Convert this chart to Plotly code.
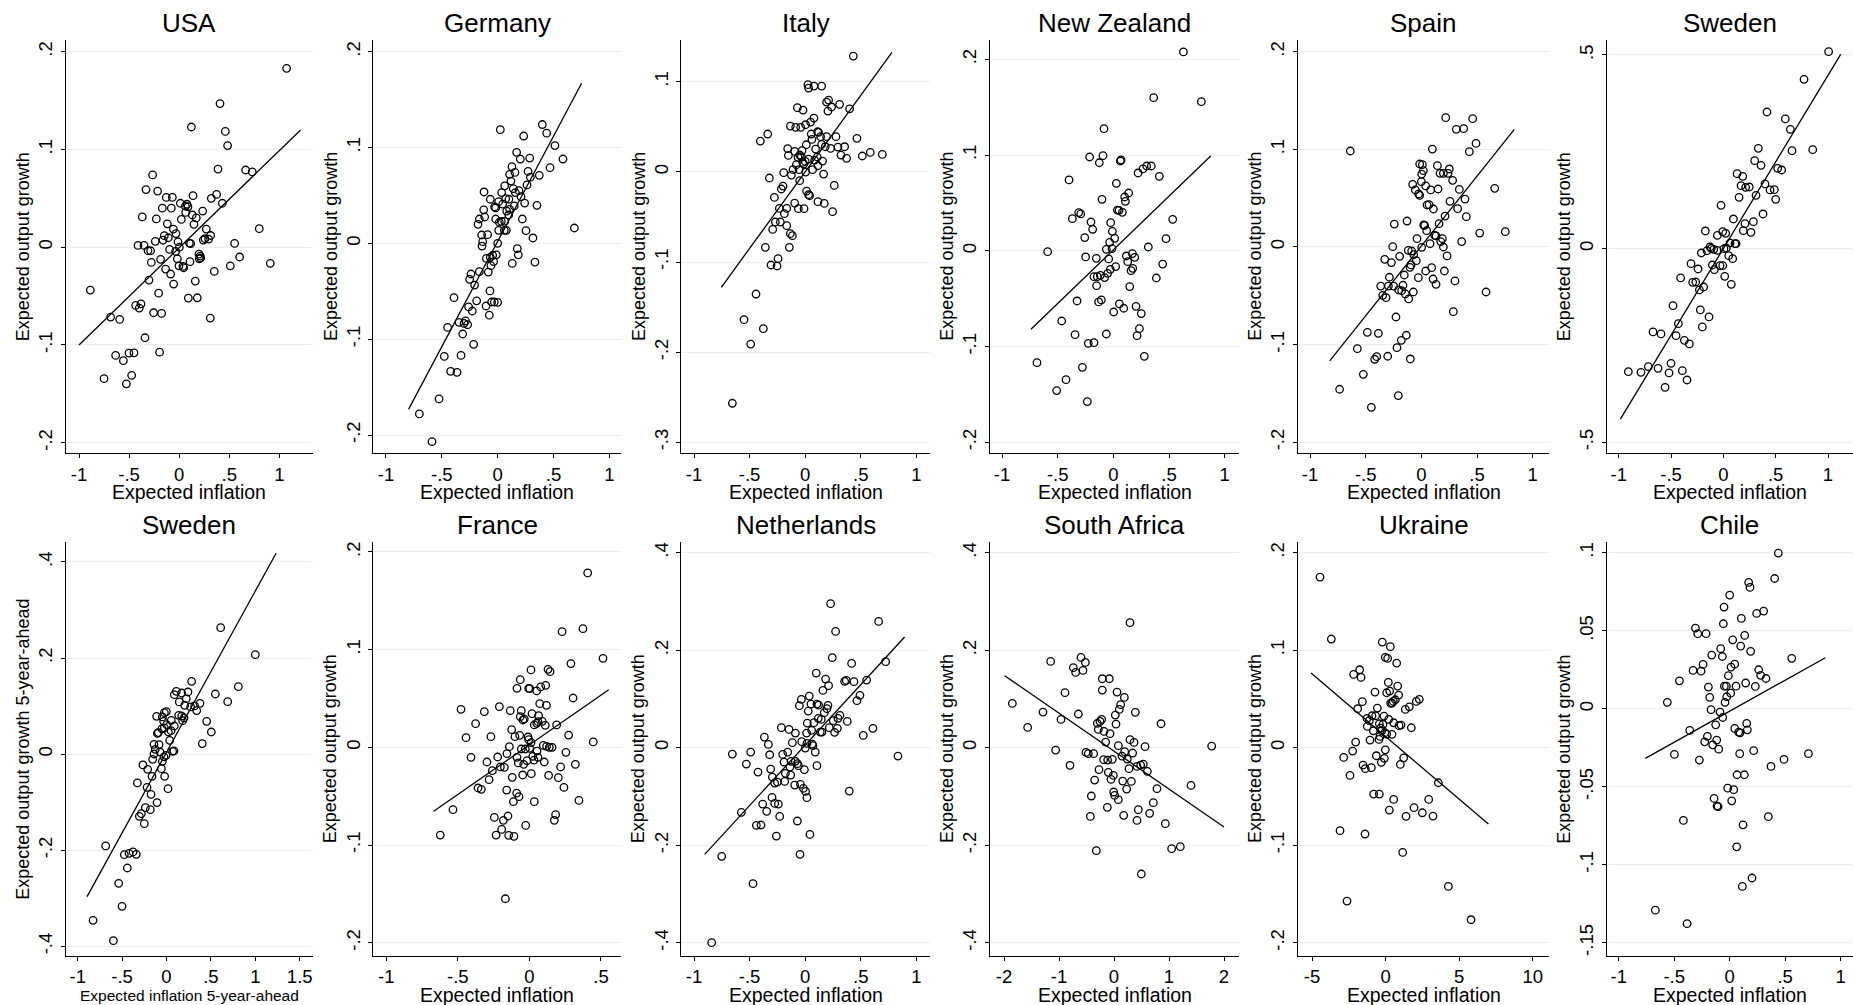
import plotly.graph_objects as go

W, H = 1853, 1005
FONT = "Liberation Sans, Arial, sans-serif"

# ---------------- data ----------------
usa_pts = [(1.073,0.183),(0.408,0.147),(0.122,0.123),(0.461,0.1185),(0.484,0.104),(0.388,0.080),(0.664,0.079),(0.73,0.077),
 (-0.265,0.074),(-0.331,0.059),(-0.215,0.0575),(0.374,0.054),(0.138,0.0527),(-0.128,0.051),(-0.068,0.051),(0.321,0.050),
 (0.012,0.045),(0.078,0.044),(0.431,0.045),(0.062,0.042),(0.088,0.0414),(-0.168,0.040),(-0.078,0.040),(0.235,0.037),
 (0.065,0.0356),(0.131,0.033),(0.171,0.030),(-0.368,0.031),(-0.228,0.029),(0.022,0.0285),(-0.118,0.024),(0.148,0.0234),
 (0.271,0.0186),(-0.058,0.0186),(0.8,0.019),(-0.032,0.014),(-0.148,0.0118),(0.314,0.012),(-0.108,0.0097),(0.258,0.0087),
 (0.294,0.0084),(-0.161,0.0073),(-0.238,0.006),(0.241,0.0073),(-0.012,0.0056),(0.102,0.0043),(0.115,0.0036),(0.554,0.0039),
 (-0.411,0.0019),(-0.351,0.0019),(0.002,0.0),(-0.095,-0.0022),(-0.311,-0.0036),(-0.285,-0.0036),(-0.035,-0.0043),(0.198,-0.007),
 (0.211,-0.009),(0.604,-0.010),(-0.018,-0.0118),(0.215,-0.011),(0.201,-0.0118),(-0.185,-0.0124),(0.108,-0.0148),(-0.278,-0.0155),
 (0.91,-0.0165),(-0.002,-0.019),(0.038,-0.0196),(0.045,-0.021),(0.511,-0.019),(-0.135,-0.0223),(0.351,-0.0247),(-0.085,-0.0274),
 (-0.301,-0.0336),(0.161,-0.0346),(-0.055,-0.0377),(-0.205,-0.047),(0.092,-0.052),(0.181,-0.0517),(-0.887,-0.0438),(-0.434,-0.0595),
 (-0.381,-0.058),(-0.398,-0.0622),(-0.255,-0.067),(-0.175,-0.0677),(0.311,-0.0725),(-0.684,-0.0714),(-0.594,-0.0738),(-0.341,-0.0926),
 (-0.634,-0.1107),(-0.557,-0.116),(-0.501,-0.1083),(-0.451,-0.108),(-0.195,-0.1073),(-0.75,-0.1345),(-0.474,-0.131),(-0.527,-0.1397)]
usa_fit_x = [-1.0, 1.213]
usa_fit_y = [-0.1, 0.12]

germany_pts = [(0.024,0.1186),(0.4,0.124),(0.439,0.115),(0.233,0.112),(0.513,0.102),(0.17,0.095),(0.203,0.088),(0.287,0.089),
 (0.585,0.088),(0.128,0.080),(0.469,0.079),(0.272,0.075),(0.155,0.074),(0.107,0.072),(0.373,0.071),(0.293,0.069),(0.119,0.065),
 (0.063,0.060),(0.263,0.061),(0.14,0.057),(0.191,0.055),(-0.122,0.0536),(0.158,0.053),(0.036,0.053),(0.209,0.0487),(-0.066,0.046),
 (0.101,0.046),(0.072,0.0466),(0.009,0.0435),(0.242,0.042),(0.045,0.041),(0.352,0.0397),(0.149,0.039),(-0.027,0.038),(-0.018,0.037),
 (0.107,0.0355),(-0.125,0.035),(0.081,0.0337),(0.099,0.0296),(-0.116,0.0275),(-0.164,0.0254),(-0.018,0.0254),(0.221,0.0254),
 (0.033,0.023),(0.015,0.022),(0.063,0.023),(-0.176,0.0198),(0.254,0.0132),(0.06,0.0136),(0.009,0.0136),(0.078,0.0136),(0.687,0.016),
 (-0.143,0.0087),(-0.09,0.009),(0.316,0.0056),(-0.134,0.0017),(0.0,0.0),(-0.14,-0.0028),(0.176,-0.0056),(0.185,-0.012),(-0.012,-0.012),
 (-0.045,-0.0125),(-0.066,-0.0146),(-0.101,-0.0157),(-0.036,-0.019),(0.131,-0.021),(0.334,-0.0195),(-0.06,-0.0233),(-0.239,-0.032),
 (-0.164,-0.0296),(-0.084,-0.030),(-0.251,-0.0376),(-0.206,-0.0435),(-0.069,-0.0497),(-0.391,-0.0567),(-0.188,-0.060),(-0.054,-0.0612),
 (0.0,-0.0616),(-0.03,-0.0612),(-0.26,-0.0664),(-0.104,-0.0654),(-0.227,-0.0706),(-0.075,-0.075),(-0.346,-0.0824),(-0.287,-0.081),
 (-0.301,-0.0835),(-0.269,-0.0849),(-0.448,-0.0877),(-0.313,-0.0946),(-0.215,-0.1054),(-0.478,-0.118),(-0.328,-0.117),(-0.421,-0.1336),
 (-0.364,-0.1346),(-0.525,-0.1624),(-0.701,-0.178),(-0.588,-0.207)]
germany_fit_x = [-0.797, 0.752]
germany_fit_y = [-0.173, 0.167]

italy_pts = [(0.433,0.1285),(0.025,0.0967),(0.079,0.0952),(0.148,0.0952),(0.031,0.093),(0.211,0.0797),(0.193,0.0774),(0.31,0.0749),
 (-0.07,0.0712),(0.4,0.070),(-0.019,0.0686),(0.238,0.072),(0.205,0.0675),(0.079,0.0597),(0.049,0.0553),(0.004,0.0523),(-0.04,0.0494),
 (-0.085,0.0494),(-0.133,0.0508),(-0.337,0.042),(-0.403,0.0342),(0.112,0.0445),(0.121,0.0438),(0.055,0.042),(0.139,0.039),(0.193,0.039),
 (0.277,0.039),(0.466,0.0372),(0.061,0.036),(0.148,0.0305),(0.01,0.0301),(0.181,0.0279),(0.295,0.0275),(0.355,0.0279),(0.229,0.026),
 (-0.157,0.0257),(0.094,0.0253),(-0.094,0.0227),(-0.028,0.0235),(0.586,0.0216),(0.322,0.0187),(0.694,0.0194),(0.514,0.0176),(0.373,0.015),
 (-0.151,0.0183),(-0.049,0.0187),(-0.064,0.0161),(-0.034,0.0168),(0.109,0.0165),(0.031,0.0142),(0.085,0.0131),(0.157,0.012),(0.001,0.0116),
 (-0.079,0.008),(-0.022,0.0105),(-0.013,0.0087),(0.115,0.0068),(-0.109,0.0024),(-0.055,0.0024),(0.067,0.0024),(0.004,-0.0002),(-0.193,-0.0009),
 (-0.124,-0.0035),(0.166,-0.0024),(-0.322,-0.0068),(-0.049,-0.0098),(0.262,-0.015),(-0.199,-0.0157),(-0.214,-0.019),(0.013,-0.0213),
 (0.031,-0.0253),(0.04,-0.0264),(-0.277,-0.0283),(-0.094,-0.0346),(0.115,-0.0331),(0.172,-0.035),(-0.061,-0.0408),(-0.01,-0.0408),
 (-0.232,-0.0405),(-0.166,-0.0405),(0.247,-0.0442),(-0.187,-0.0464),(-0.268,-0.0556),(-0.223,-0.0556),(-0.166,-0.0597),(-0.292,-0.0638),
 (-0.133,-0.0686),(-0.115,-0.0708),(-0.142,-0.0837),(-0.358,-0.0837),(-0.244,-0.0963),(-0.307,-0.1033),(-0.253,-0.1044),(-0.442,-0.1355),
 (-0.55,-0.164),(-0.376,-0.174),(-0.49,-0.191),(-0.655,-0.2567)]
italy_fit_x = [-0.754, 0.781]
italy_fit_y = [-0.128, 0.1325]

nz_pts = [(0.629,0.2077),(0.362,0.16),(0.79,0.1558),(-0.084,0.1276),(-0.213,0.098),(-0.093,0.0994),(-0.126,0.092),(0.063,0.0938),
 (0.069,0.0949),(0.341,0.0886),(0.299,0.0886),(0.266,0.0855),(0.222,0.0813),(0.413,0.0778),(-0.398,0.074),(0.027,0.0705),(0.138,0.0604),
 (0.102,0.0562),(-0.102,0.0538),(0.108,0.0517),(0.036,0.0426),(0.051,0.0423),(0.081,0.0402),(-0.311,0.0399),(-0.293,0.0385),(-0.368,0.0336),
 (0.533,0.0329),(-0.201,0.0301),(-0.024,0.0294),(-0.186,0.0225),(-0.009,0.0204),(-0.257,0.0138),(0.473,0.0127),(0.012,0.013),(-0.033,0.0089),
 (0.314,0.004),(-0.063,0.0016),(-0.012,0.0023),(-0.59,-0.0009),(-0.249,-0.0064),(-0.153,-0.0078),(0.171,-0.003),(0.117,-0.0054),
 (0.192,-0.0068),(-0.042,-0.0085),(0.129,-0.0113),(0.443,-0.0138),(0.021,-0.0165),(-0.027,-0.0193),(0.174,-0.0183),(0.159,-0.0207),
 (-0.051,-0.0235),(-0.117,-0.0256),(-0.174,-0.027),(-0.144,-0.027),(-0.078,-0.028),(0.386,-0.0284),(-0.15,-0.0364),(0.147,-0.0374),
 (-0.326,-0.0524),(-0.108,-0.0513),(-0.132,-0.0534),(0.054,-0.0555),(0.093,-0.06),(0.204,-0.058),(0.003,-0.0639),(0.251,-0.0656),
 (-0.464,-0.0733),(0.234,-0.0813),(0.213,-0.0886),(-0.063,-0.0869),(-0.344,-0.0876),(-0.225,-0.0966),(-0.174,-0.0959),(0.278,-0.1102),
 (-0.686,-0.1168),(-0.278,-0.1217),(-0.425,-0.1346),(-0.509,-0.146),(-0.234,-0.1575)]
nz_fit_x = [-0.74, 0.874]
nz_fit_y = [-0.082, 0.099]

spain_pts = [(0.219,0.1324),(0.461,0.1314),(0.314,0.1205),(0.38,0.1212),(0.491,0.1061),(-0.638,0.0983),(0.099,0.1003),(0.431,0.0976),
 (-0.015,0.085),(0.009,0.0843),(0.144,0.0833),(0.251,0.0799),(0.018,0.0782),(0.168,0.0754),(0.198,0.0754),(0.24,0.0754),(0.003,0.0747),
 (0.281,0.0683),(0.0,0.0669),(-0.078,0.0642),(0.039,0.0625),(-0.054,0.0584),(0.084,0.0584),(0.15,0.0594),(0.341,0.059),(0.659,0.0601),
 (-0.024,0.0543),(-0.015,0.0529),(0.392,0.0491),(0.257,0.0468),(0.051,0.043),(0.069,0.0433),(0.108,0.0389),(0.326,0.0392),(0.404,0.0311),
 (0.213,0.0317),(-0.129,0.0266),(-0.243,0.0235),(0.021,0.0225),(0.03,0.0222),(0.159,0.0239),(0.048,0.0167),(0.754,0.0157),(0.524,0.0143),
 (0.12,0.0119),(0.132,0.0113),(-0.039,0.0085),(0.189,0.0085),(0.362,0.0055),(0.174,0.0055),(0.078,0.0034),(-0.257,0.0003),(0.003,-0.0003),
 (0.198,0.0),(-0.117,-0.0034),(-0.087,-0.0041),(-0.069,-0.0078),(-0.329,-0.0126),(-0.195,-0.0096),(0.231,-0.0092),(-0.045,-0.014),
 (-0.269,-0.016),(-0.093,-0.0184),(-0.102,-0.0208),(0.093,-0.0212),(0.039,-0.0246),(0.207,-0.0246),(-0.153,-0.0287),(-0.287,-0.031),
 (-0.027,-0.0314),(0.105,-0.0328),(0.302,-0.0348),(0.132,-0.0382),(-0.365,-0.04),(-0.296,-0.04),(-0.249,-0.04),(-0.165,-0.0392),
 (-0.204,-0.044),(-0.177,-0.0447),(-0.144,-0.0481),(-0.072,-0.0461),(-0.347,-0.0495),(-0.317,-0.0519),(-0.114,-0.0532),(0.581,-0.0461),
 (-0.228,-0.0717),(0.287,-0.0662),(-0.485,-0.0874),(-0.386,-0.0884),(-0.135,-0.0904),(-0.18,-0.0956),(-0.219,-0.1031),(-0.575,-0.1041),
 (-0.302,-0.1119),(-0.401,-0.1123),(-0.419,-0.115),(-0.099,-0.1147),(-0.521,-0.1304),(-0.734,-0.1457),(-0.207,-0.1522),(-0.449,-0.1642)]
spain_fit_x = [-0.823, 0.835]
spain_fit_y = [-0.1167, 0.1205]

sweden_pts = [(1.006,0.5086),(0.771,0.4372),(0.417,0.3528),(0.592,0.3348),(0.64,0.3081),(0.334,0.259),(0.656,0.253),(0.854,0.2556),
 (0.299,0.2272),(0.36,0.2151),(0.519,0.2074),(0.557,0.2031),(0.131,0.1936),(0.185,0.1867),(0.398,0.167),(0.169,0.1627),(0.213,0.1583),
 (0.248,0.1592),(0.446,0.1515),(0.487,0.1523),(0.312,0.1377),(0.15,0.1325),(0.5,0.1274),(-0.022,0.1119),(0.379,0.0895),(0.096,0.0766),
 (0.287,0.0697),(0.207,0.0645),(-0.172,0.0456),(0.191,0.0465),(0.264,0.0422),(-0.006,0.0439),(0.022,0.0396),(-0.057,0.0344),(0.064,0.0146),
 (0.121,0.0129),(0.111,0.0129),(-0.127,0.0043),(-0.115,0.0009),(-0.092,-0.0017),(-0.156,-0.0052),(-0.057,-0.0043),(0.006,0.0),(0.029,0.0017),
 (-0.21,-0.0112),(0.051,-0.0181),(0.089,-0.0258),(-0.309,-0.0387),(-0.242,-0.0525),(-0.105,-0.0422),(-0.032,-0.0439),(-0.006,-0.0439),
 (-0.086,-0.0542),(-0.408,-0.0757),(0.013,-0.0714),(-0.293,-0.0869),(-0.264,-0.0861),(0.076,-0.0921),(-0.188,-0.099),(-0.229,-0.1067),
 (-0.481,-0.1472),(-0.22,-0.1583),(-0.137,-0.1764),(-0.43,-0.1936),(-0.201,-0.2022),(-0.672,-0.2151),(-0.596,-0.2203),(-0.452,-0.2246),
 (-0.373,-0.2367),(-0.325,-0.2461),(-0.5,-0.296),(-0.717,-0.3046),(-0.624,-0.309),(-0.908,-0.3176),(-0.787,-0.3193),(-0.519,-0.321),
 (-0.392,-0.315),(-0.347,-0.3391),(-0.557,-0.358)]
sweden_fit_x = [-0.984, 1.121]
sweden_fit_y = [-0.44, 0.5017]

sweden5_pts = [(0.61,0.2633),(1.0,0.2071),(0.283,0.1516),(0.809,0.1405),(0.242,0.1294),(0.111,0.1308),(0.171,0.1273),(0.088,0.1238),
 (0.55,0.1252),(0.689,0.1093),(0.144,0.1086),(0.223,0.1155),(0.377,0.1058),(0.317,0.1003),(0.272,0.0982),(0.205,0.1016),(0.34,0.0906),
 (-0.002,0.0885),(-0.024,0.0864),(0.137,0.0808),(0.171,0.0794),(-0.111,0.0787),(-0.047,0.0774),(0.197,0.0753),(0.054,0.0704),(0.182,0.0697),
 (-0.032,0.0683),(0.452,0.0683),(0.002,0.0614),(-0.024,0.0545),(-0.051,0.0524),(0.051,0.0489),(0.021,0.0461),(0.088,0.0586),(0.505,0.0461),
 (-0.103,0.0433),(-0.092,0.0448),(0.036,0.0288),(-0.084,0.0198),(-0.141,0.0205),(0.403,0.0219),(-0.126,0.0101),(0.069,0.0059),(0.084,0.0066),
 (-0.073,0.0045),(-0.141,0.0003),(-0.006,-0.0024),(-0.028,-0.0059),(-0.156,-0.0108),(-0.047,-0.0149),(-0.265,-0.0225),(-0.212,-0.0316),
 (-0.058,-0.0302),(-0.163,-0.0461),(-0.021,-0.0461),(-0.328,-0.06),(-0.219,-0.069),(0.017,-0.0718),(-0.174,-0.0836),(-0.107,-0.1009),
 (-0.182,-0.1155),(-0.238,-0.1114),(-0.283,-0.1239),(-0.306,-0.1294),(-0.25,-0.1447),(-0.685,-0.1911),(-0.475,-0.2092),(-0.422,-0.2064),
 (-0.377,-0.2036),(-0.34,-0.2085),(-0.441,-0.237),(-0.538,-0.2689),(-0.501,-0.3167),(-0.827,-0.3459),(-0.598,-0.3882)]
sweden5_fit_x = [-0.895, 1.236]
sweden5_fit_y = [-0.2966, 0.4187]

france_pts = [(0.407,0.1785),(0.228,0.1184),(0.374,0.1215),(0.514,0.0911),(0.29,0.0857),(0.011,0.0792),(0.13,0.0799),(0.144,0.0775),
 (-0.064,0.0693),(-0.087,0.0604),(-0.005,0.0604),(0.002,0.0601),(0.079,0.0618),(0.114,0.0635),(0.051,0.0577),(0.305,0.0505),(0.072,0.0447),
 (0.119,0.043),(-0.478,0.0389),(-0.315,0.0365),(-0.21,0.0416),(-0.134,0.0375),(-0.057,0.0375),(-0.064,0.0314),(-0.036,0.029),(-0.045,0.028),
 (0.018,0.0345),(0.064,0.0324),(0.09,0.0266),(0.051,0.0246),(0.034,0.0229),(0.111,0.0225),(0.19,0.0229),(-0.376,0.0242),(0.06,0.0263),
 (-0.124,0.0181),(-0.101,0.0109),(-0.068,0.0123),(-0.443,0.0099),(-0.269,0.0109),(0.274,0.0126),(0.446,0.0055),(-0.01,0.0106),(-0.005,0.0078),
 (0.011,0.0048),(-0.14,0.0007),(0.097,0.002),(0.12,0.001),(0.139,0.0),(0.158,0.0),(-0.057,-0.0017),(-0.029,-0.0017),(0.002,-0.001),
 (0.053,-0.0038),(0.255,-0.0051),(-0.157,-0.0065),(-0.408,-0.0102),(-0.222,-0.0099),(-0.087,-0.0102),(0.023,-0.0092),(0.06,-0.0102),
 (-0.297,-0.015),(-0.017,-0.0137),(0.032,-0.013),(0.104,-0.015),(-0.078,-0.016),(-0.04,-0.0174),(0.321,-0.0174),(0.218,-0.0201),
 (-0.203,-0.0201),(-0.175,-0.0205),(-0.259,-0.0239),(-0.047,-0.0283),(0.013,-0.027),(-0.12,-0.0307),(0.134,-0.0287),(0.202,-0.0311),
 (-0.282,-0.0331),(-0.359,-0.0416),(-0.336,-0.043),(0.241,-0.041),(-0.159,-0.0437),(-0.089,-0.0468),(-0.073,-0.0505),(-0.112,-0.0556),
 (0.034,-0.0556),(0.346,-0.0543),(-0.534,-0.0638),(-0.245,-0.0717),(-0.15,-0.0703),(-0.182,-0.0747),(0.183,-0.0689),(0.174,-0.0747),
 (-0.026,-0.0799),(-0.194,-0.084),(-0.623,-0.0898),(-0.233,-0.0898),(-0.145,-0.0901),(-0.108,-0.0911),(-0.168,-0.155)]
france_fit_x = [-0.669, 0.554]
france_fit_y = [-0.0655, 0.059]

netherlands_pts = [(0.229,0.2954),(0.661,0.2591),(0.274,0.2386),(0.244,0.1846),(0.418,0.173),(0.724,0.1764),(0.1,0.1532),(0.184,0.1409),
 (0.211,0.1272),(0.355,0.1361),(0.37,0.1381),(0.439,0.1354),(0.553,0.1388),(0.16,0.1176),(0.037,0.106),(0.493,0.1074),(0.466,0.0964),
 (-0.034,0.0991),(-0.052,0.0862),(0.052,0.0896),(0.106,0.0896),(0.121,0.0875),(0.205,0.0868),(0.196,0.08),(0.028,0.0752),(0.172,0.0718),
 (0.313,0.0663),(0.295,0.0602),(0.118,0.0602),(0.145,0.0581),(0.379,0.054),(0.253,0.0554),(0.079,0.0513),(0.019,0.0506),(-0.214,0.041),
 (-0.145,0.0376),(0.217,0.041),(0.29,0.0397),(0.61,0.0397),(0.058,0.0356),(0.136,0.0321),(0.151,0.0321),(0.265,0.0315),(-0.088,0.0301),
 (0.013,0.0301),(0.523,0.0253),(-0.367,0.0219),(-0.115,0.0103),(-0.031,0.0123),(-0.331,0.0068),(0.016,0.0089),(0.064,0.0075),(0.07,0.0041),
 (0.001,-0.0007),(-0.655,-0.013),(-0.49,-0.0089),(-0.319,-0.0144),(-0.202,-0.0137),(-0.157,-0.0089),(0.091,-0.0089),(0.835,-0.0171),
 (-0.529,-0.0335),(-0.19,-0.0294),(-0.127,-0.028),(-0.088,-0.028),(-0.07,-0.0328),(-0.061,-0.0369),(-0.136,-0.0397),(0.106,-0.0369),
 (-0.31,-0.0438),(-0.424,-0.0499),(-0.007,-0.0451),(-0.178,-0.0526),(-0.13,-0.0561),(-0.295,-0.0602),(-0.274,-0.0725),(-0.25,-0.0704),
 (-0.184,-0.0691),(-0.094,-0.0766),(-0.043,-0.0752),(-0.016,-0.0834),(0.004,-0.0896),(0.397,-0.0889),(0.016,-0.1026),(-0.298,-0.1019),
 (-0.382,-0.1156),(-0.274,-0.1142),(-0.241,-0.1156),(-0.346,-0.1306),(-0.574,-0.1326),(-0.229,-0.1409),(-0.07,-0.1504),(-0.439,-0.1593),
 (-0.397,-0.1586),(0.043,-0.1778),(-0.259,-0.1812),(-0.046,-0.2188),(-0.751,-0.2229),(-0.469,-0.279),(-0.841,-0.4)]
netherlands_fit_x = [-0.904, 0.895]
netherlands_fit_y = [-0.2188, 0.227]

safrica_pts = [(0.291,0.2564),(-0.6,0.1853),(-0.521,0.175),(-1.152,0.1771),(-0.739,0.1641),(-0.697,0.1545),(-0.564,0.1586),
 (-0.212,0.1415),(-0.085,0.1415),(-0.891,0.1128),(-0.212,0.1183),(0.055,0.1142),(0.188,0.1032),(0.121,0.0882),(0.097,0.0786),
 (-1.848,0.0909),(-1.291,0.0732),(-0.648,0.0691),(0.024,0.067),(0.388,0.0725),(0.855,0.0492),(-0.964,0.0581),(-1.57,0.0417),
 (-0.303,0.0499),(-0.224,0.0581),(-0.255,0.054),(0.036,0.0485),(-0.285,0.0376),(-0.182,0.0335),(-0.073,0.0287),(0.291,0.0164),
 (0.364,0.0109),(-0.152,0.0116),(0.079,0.0041),(0.564,0.0021),(1.776,0.0034),(-1.061,-0.0048),(-0.509,-0.0096),(-0.467,-0.0123),
 (-0.37,-0.0123),(0.194,-0.0082),(0.339,-0.0109),(0.145,-0.0171),(0.242,-0.0232),(-0.188,-0.0246),(-0.115,-0.0253),(-0.03,-0.0239),
 (-0.8,-0.0362),(0.533,-0.0335),(0.485,-0.0356),(0.418,-0.0383),(0.273,-0.0431),(-0.273,-0.0451),(0.606,-0.0485),(-0.103,-0.0506),
 (-0.012,-0.0568),(-0.055,-0.065),(-0.352,-0.0663),(0.158,-0.0684),(0.315,-0.0691),(1.4,-0.0773),(0.23,-0.0848),(0.782,-0.0841),
 (-0.006,-0.0909),(0.012,-0.0978),(-0.412,-0.0991),(0.079,-0.1067),(0.715,-0.1128),(-0.121,-0.1224),(0.442,-0.1272),(0.648,-0.1347),
 (0.176,-0.1388),(-0.43,-0.1409),(0.418,-0.1491),(0.933,-0.1559),(-0.321,-0.2113),(1.048,-0.2072),(1.206,-0.2031),(0.497,-0.2591)]
safrica_fit_x = [-1.988, 2.0]
safrica_fit_y = [0.1477, -0.1627]

ukraine_pts = [(-4.457,0.175),(-3.687,0.1115),(-0.22,0.1084),(0.324,0.1036),(-0.016,0.0926),(0.143,0.0916),(0.755,0.0868),
 (-1.76,0.08),(-2.168,0.0752),(-1.669,0.0721),(0.188,0.067),(0.823,0.0632),(0.89,0.054),(0.075,0.0564),(0.279,0.0581),(-0.718,0.0571),
 (2.295,0.0496),(2.091,0.0475),(0.664,0.0492),(0.528,0.0475),(0.437,0.0458),(0.347,0.0458),(1.616,0.042),(1.344,0.0393),(-1.578,0.0472),
 (-1.895,0.04),(-0.56,0.0407),(-0.107,0.0325),(-0.922,0.0328),(-0.673,0.0328),(-1.262,0.0301),(-1.104,0.0277),(0.211,0.0291),
 (-0.424,0.0246),(-0.175,0.0239),(-1.24,0.0219),(0.551,0.0256),(1.05,0.0232),(0.913,0.0226),(1.752,0.0205),(-0.832,0.0174),(-0.333,0.0202),
 (-0.265,0.0174),(-0.039,0.0154),(0.075,0.014),(0.437,0.0137),(-0.379,0.0116),(-0.447,0.0085),(-1.058,0.0079),(-2.032,0.0058),
 (-0.016,-0.0021),(-2.236,-0.0034),(1.231,-0.0103),(-2.847,-0.0099),(-0.628,-0.0082),(-0.084,-0.0109),(-0.288,-0.015),(1.005,-0.0171),
 (-1.533,-0.0178),(-1.375,-0.0215),(-0.967,-0.0205),(-2.417,-0.0284),(3.587,-0.0359),(-0.809,-0.0475),(-0.424,-0.0475),(0.551,-0.053),
 (2.93,-0.053),(1.933,-0.0615),(0.256,-0.0639),(2.499,-0.0667),(1.389,-0.0704),(3.225,-0.0701),(-3.096,-0.0851),(-1.398,-0.0885),
 (1.163,-0.1074),(4.268,-0.1422),(-2.621,-0.1573),(5.809,-0.1764)]
ukraine_fit_x = [-5.066, 6.99]
ukraine_fit_y = [0.0766, -0.0783]

chile_pts = [(0.438,0.0998),(0.405,0.0835),(0.171,0.081),(0.183,0.0778),(0.0,0.0729),(-0.051,0.0652),(0.306,0.0626),(0.243,0.0611),
 (0.105,0.0579),(-0.057,0.0545),(-0.309,0.0517),(-0.288,0.0481),(-0.213,0.0481),(0.135,0.047),(0.027,0.0442),(0.099,0.0402),
 (-0.081,0.0385),(0.189,0.0368),(-0.162,0.0344),(-0.066,0.0335),(0.559,0.0323),(-0.24,0.0284),(0.045,0.0286),(0.012,0.0267),(0.261,0.025),
 (-0.33,0.0246),(-0.258,0.0241),(0.279,0.0214),(-0.012,0.0212),(0.327,0.0194),(-0.453,0.0179),(0.144,0.0165),(0.231,0.0143),(-0.192,0.0139),
 (-0.048,0.0145),(-0.03,0.0145),(0.057,0.0145),(0.009,0.01),(-0.18,0.0073),(-0.027,0.0077),(-0.042,0.0041),(-0.562,0.0041),(-0.168,-0.0006),
 (-0.087,-0.0021),(-0.063,-0.0056),(0.153,-0.0094),(-0.126,-0.0103),(0.045,-0.0126),(0.159,-0.0135),(0.081,-0.015),(0.093,-0.0154),
 (-0.36,-0.0139),(-0.201,-0.0177),(-0.117,-0.0201),(-0.225,-0.0212),(-0.153,-0.0231),(-0.099,-0.0259),(0.216,-0.0269),(0.09,-0.0288),
 (-0.498,-0.0293),(0.709,-0.0288),(-0.273,-0.0329),(0.489,-0.0325),(0.372,-0.037),(0.066,-0.0423),(0.132,-0.0423),(-0.018,-0.0509),
 (0.036,-0.0519),(-0.141,-0.0575),(0.018,-0.059),(-0.114,-0.0624),(-0.105,-0.0628),(0.348,-0.0692),(-0.417,-0.0716),(0.12,-0.0744),
 (0.063,-0.0885),(0.201,-0.1085),(0.114,-0.1139),(-0.67,-0.1291),(-0.384,-0.1378)]
chile_fit_x = [-0.76, 0.862]
chile_fit_y = [-0.0318, 0.0327]

titles = ["USA", "Germany", "Italy", "New Zealand", "Spain", "Sweden",
          "Sweden", "France", "Netherlands", "South Africa", "Ukraine", "Chile"]

xt_std = [-1, -0.5, 0, 0.5, 1]
yt_02 = [-0.2, -0.1, 0, 0.1, 0.2]
xt_swe5 = [-1, -0.5, 0, 0.5, 1, 1.5]
xt_fra = [-1, -0.5, 0, 0.5]
xt_saf = [-2, -1, 0, 1, 2]
xt_ukr = [-5, 0, 5, 10]
yt_ita = [-0.3, -0.2, -0.1, 0, 0.1]
yt_swe = [-0.5, 0, 0.5]
yt_04 = [-0.4, -0.2, 0, 0.2, 0.4]
yt_chl = [-0.15, -0.1, -0.05, 0, 0.05, 0.1]

# ---------------- layout geometry (pixels) ----------------
col_l = [65.7, 373.3, 681.3, 990, 1298, 1606.7]
col_r = [313, 621, 930, 1239, 1549, 1853]
row_t = [40, 542]
row_b = [453.3, 956]

panels = [
    (usa_pts, usa_fit_x, usa_fit_y, xt_std, yt_02, [-1.1328, 1.3365], [-0.2108, 0.212]),
    (germany_pts, germany_fit_x, germany_fit_y, xt_std, yt_02, [-1.1137, 1.1048], [-0.2191, 0.2122]),
    (italy_pts, italy_fit_x, italy_fit_y, xt_std, yt_ita, [-1.1143, 1.1233], [-0.3122, 0.1463]),
    (nz_pts, nz_fit_x, nz_fit_y, xt_std, yt_02, [-1.1078, 1.1284], [-0.2115, 0.2202]),
    (spain_pts, spain_fit_x, spain_fit_y, xt_std, yt_02, [-1.1078, 1.1464], [-0.2113, 0.212]),
    (sweden_pts, sweden_fit_x, sweden_fit_y, xt_std, yt_swe, [-1.1147, 1.2389], [-0.5284, 0.5387]),
    (sweden5_pts, sweden5_fit_x, sweden5_fit_y, xt_swe5, yt_04, [-1.1351, 1.6498], [-0.4202, 0.4416]),
    (france_pts, france_fit_x, france_fit_y, xt_fra, yt_02, [-1.0908, 0.6398], [-0.2136, 0.2102]),
    (netherlands_pts, netherlands_fit_x, netherlands_fit_y, xt_std, yt_04, [-1.1143, 1.1233], [-0.4273, 0.422]),
    (safrica_pts, safrica_fit_x, safrica_fit_y, xt_saf, yt_04, [-2.2545, 2.2727], [-0.4273, 0.422]),
    (ukraine_pts, ukraine_fit_x, ukraine_fit_y, xt_ukr, yt_02, [-5.9515, 11.108], [-0.2136, 0.211]),
    (chile_pts, chile_fit_x, chile_fit_y, xt_std, yt_chl, [-1.1081, 1.1108], [-0.1585, 0.1069]),
]


def stata_label(v):
    s = f"{v:g}"
    if s.startswith("0."):
        s = s[1:]
    elif s.startswith("-0."):
        s = "-" + s[2:]
    return s


fig = go.Figure()
annotations = []
for i, (pts, fx, fy, xt, yt, xr, yr) in enumerate(panels):
    r, c = divmod(i, 6)
    n = "" if i == 0 else str(i + 1)
    xa, ya = "x" + n, "y" + n
    xs = [p[0] for p in pts]
    ys = [p[1] for p in pts]
    fig.add_trace(go.Scatter(x=xs, y=ys, mode="markers", xaxis=xa, yaxis=ya,
                             marker=dict(symbol="circle-open", size=7.5, color="black",
                                         line=dict(width=1.3, color="black")),
                             showlegend=False, hoverinfo="x+y"))
    fig.add_trace(go.Scatter(x=fx, y=fy, mode="lines", xaxis=xa, yaxis=ya,
                             line=dict(color="black", width=1.3),
                             showlegend=False, hoverinfo="skip"))
    x0, x1 = col_l[c] / W, col_r[c] / W
    y0, y1 = 1 - row_b[r] / H, 1 - row_t[r] / H
    tick_font = dict(family=FONT, size=18.5, color="black")
    fig.layout["xaxis" + n] = dict(
        domain=[x0, x1], anchor=ya, range=xr, tickvals=xt,
        ticktext=[stata_label(v) for v in xt], showgrid=False, zeroline=False,
        showline=True, linecolor="black", linewidth=1.3, ticks="outside",
        ticklen=4, tickwidth=1.2, tickcolor="black", tickfont=tick_font,
        ticklabelstandoff=0, automargin=False, fixedrange=True)
    fig.layout["yaxis" + n] = dict(
        domain=[y0, y1], anchor=xa, range=yr, tickvals=yt,
        ticktext=[stata_label(v) for v in yt], showgrid=True,
        gridcolor="#e6eff1", gridwidth=1.2, zeroline=False,
        showline=True, linecolor="black", linewidth=1.3, ticks="outside",
        ticklen=4, tickwidth=1.2, tickcolor="black", tickfont=tick_font,
        tickangle=-90, ticklabelstandoff=1, automargin=False, fixedrange=True)

    cx = (col_l[c] + col_r[c]) / 2 / W
    # panel title
    annotations.append(dict(text=titles[i], x=cx, y=1 - (row_t[r] - 17) / H,
                            xref="paper", yref="paper", showarrow=False,
                            xanchor="center", yanchor="middle",
                            font=dict(family=FONT, size=26, color="black")))
    # axis titles
    if i == 6:
        xlab, ylab, xs_, ys_ = "Expected inflation 5-year-ahead", "Expected output growth 5-year-ahead", 15.5, 18
    else:
        xlab, ylab, xs_, ys_ = "Expected inflation", "Expected output growth", 19.5, 18
    annotations.append(dict(text=xlab, x=cx, y=1 - (row_b[r] + 39) / H,
                            xref="paper", yref="paper", showarrow=False,
                            xanchor="center", yanchor="middle",
                            font=dict(family=FONT, size=xs_, color="black")))
    annotations.append(dict(text=ylab, x=(col_l[c] - 43) / W,
                            y=1 - (row_t[r] + row_b[r]) / 2 / H,
                            xref="paper", yref="paper", showarrow=False,
                            xanchor="center", yanchor="middle", textangle=-90,
                            font=dict(family=FONT, size=ys_, color="black")))

fig.update_layout(width=W, height=H, autosize=False,
                  margin=dict(l=0, r=0, t=0, b=0),
                  paper_bgcolor="white", plot_bgcolor="white",
                  font=dict(family=FONT, color="black"),
                  annotations=annotations)

fig.write_html("out.html", config={"displayModeBar": False},
               post_script="document.body.style.margin='0';document.body.style.overflow='hidden';")
